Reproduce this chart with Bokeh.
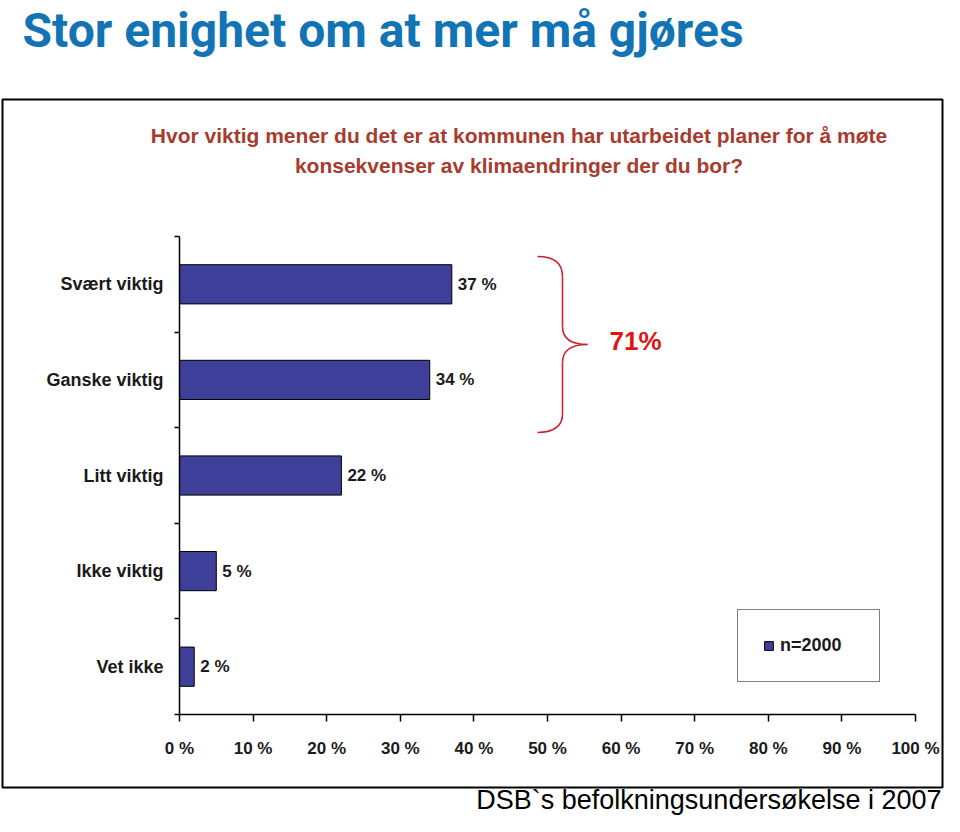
from bokeh.plotting import figure
from bokeh.embed import file_html
from bokeh.resources import INLINE
from bokeh.core.properties import value
from bokeh.models import (Range1d, FixedTicker, Label, BoxAnnotation, Legend,
                          LegendItem, ColumnDataSource, LinearAxis)

# ---------------- data ----------------
categories = ["Svært viktig", "Ganske viktig", "Litt viktig", "Ikke viktig", "Vet ikke"]
shares = [37, 34, 22, 5, 2]
series_name = "n=2000"
x_ticks = [0, 10, 20, 30, 40, 50, 60, 70, 80, 90, 100]
x_tick_labels = ["0 %", "10 %", "20 %", "30 %", "40 %", "50 %", "60 %", "70 %", "80 %", "90 %", "100 %"]
bracket_total = "71%"
main_title = "Stor enighet om at mer må gjøres"
question_lines = ["Hvor viktig mener du det er at kommunen har utarbeidet planer for å møte",
                  "konsekvenser av klimaendringer der du bor?"]
source_note = "DSB`s befolkningsundersøkelse i 2007"

# ---------------- layout helpers (canvas pixels -> data) ----------------
W, H = 944, 816
FL, FT, FR, FB = 179, 236, 915, 714  # plot area edges in canvas pixels
n = len(categories)
ypos = [n - i for i in range(n)]  # top category first


def dx(px):
    return (px - FL) / (FR - FL) * 100


def dy(py):
    return (n + 0.5) - (py - FT) / (FB - FT) * n


FONT = "Liberation Sans"
TXT = "#1a1a1a"
BAR = "#3E3F99"

p = figure(width=W, height=H, title=None,
           x_range=Range1d(dx(0), dx(W)), y_range=Range1d(dy(H), dy(0)),
           output_backend="svg", toolbar_location=None,
           x_axis_type=None, y_axis_type=None, min_border=0)
p.outline_line_color = None
p.background_fill_color = "white"
p.border_fill_color = "white"

src = ColumnDataSource(dict(y=ypos, right=shares, cat=categories,
                            lab=[f"{v} %" for v in shares]))
bars = p.hbar(y="y", right="right", left=0, height=0.41, source=src,
              fill_color=BAR, line_color="black", line_width=1)
p.text(x="right", y="y", text="lab", source=src, x_offset=6,
       text_baseline="middle", text_align="left",
       text_font=value(FONT), text_font_style="bold", text_font_size="17px",
       text_color=TXT)

# x axis
xa = LinearAxis(fixed_location=0.5, bounds=(0, 100))
xa.ticker = FixedTicker(ticks=x_ticks, minor_ticks=[])
xa.major_label_overrides = {t: l for t, l in zip(x_ticks, x_tick_labels)}
xa.major_tick_out = 7
xa.major_tick_in = 0
xa.major_tick_line_width = 1.5
xa.axis_line_width = 1.5
xa.major_label_standoff = 17
xa.major_label_text_font = FONT
xa.major_label_text_font_style = "bold"
xa.major_label_text_font_size = "17px"
xa.major_label_text_color = TXT
p.add_layout(xa, "below")

# y axis: labels at category centres, ticks between categories
ya = LinearAxis(fixed_location=0, bounds=(0.5, n + 0.5))
ya.ticker = FixedTicker(ticks=ypos, minor_ticks=[i + 0.5 for i in range(n + 1)])
ya.major_label_overrides = {y: c for y, c in zip(ypos, categories)}
ya.major_tick_line_color = None
ya.major_tick_out = 0
ya.major_tick_in = 0
ya.minor_tick_out = 5
ya.minor_tick_in = 0
ya.minor_tick_line_color = "black"
ya.minor_tick_line_width = 1.5
ya.axis_line_width = 1.5
ya.major_label_standoff = 11
ya.major_label_text_font = FONT
ya.major_label_text_font_style = "bold"
ya.major_label_text_font_size = "18px"
ya.major_label_text_color = TXT
p.add_layout(ya, "left")

# legend
legend = Legend(items=[LegendItem(label=series_name, renderers=[bars])],
                location=(737, H - 682), margin=0, padding=25,
                glyph_width=11, glyph_height=11, label_standoff=6,
                label_width=74, label_height=14, spacing=0,
                border_line_color="black", border_line_width=1.5,
                background_fill_color="white", background_fill_alpha=1,
                label_text_font=FONT, label_text_font_style="bold",
                label_text_font_size="18px", label_text_color=TXT)
p.add_layout(legend)

# curly bracket spanning the two top categories
RED = "#CC2230"
segs = [
    ((537, 256), (552, 256), (562, 262), (562, 276)),
    ((562, 276), (562, 276), (562, 326), (562, 326)),
    ((562, 326), (562, 338), (571, 344), (587, 344)),
    ((587, 344), (571, 344), (562, 350), (562, 362)),
    ((562, 362), (562, 362), (562, 414), (562, 414)),
    ((562, 414), (562, 426), (552, 432), (537, 432)),
]
p.bezier(x0=[dx(s[0][0]) for s in segs], y0=[dy(s[0][1]) for s in segs],
         cx0=[dx(s[1][0]) for s in segs], cy0=[dy(s[1][1]) for s in segs],
         cx1=[dx(s[2][0]) for s in segs], cy1=[dy(s[2][1]) for s in segs],
         x1=[dx(s[3][0]) for s in segs], y1=[dy(s[3][1]) for s in segs],
         line_color=RED, line_width=1.6)
p.add_layout(Label(x=dx(609), y=dy(340), text=bracket_total, text_align="left",
                   text_baseline="middle", text_font=FONT, text_font_style="bold",
                   text_font_size="26px", text_color="#E01414"))

# outer box
p.add_layout(BoxAnnotation(left=dx(2), right=dx(942), top=dy(99), bottom=dy(787),
                           fill_alpha=0, line_color="black", line_alpha=1,
                           line_width=2, level="overlay"))

# question (chart title)
for i, line in enumerate(question_lines):
    p.add_layout(Label(x=dx(518.5), y=dy(134.5 + 30 * i), text=line,
                       text_align="center", text_baseline="middle",
                       text_font=FONT, text_font_style="bold",
                       text_font_size="21px", text_color="#A83B2E"))

# main slide title
p.add_layout(Label(x=dx(22), y=dy(30), text=main_title, text_align="left",
                   text_baseline="middle", text_font="Roboto",
                   text_font_style="bold", text_font_size="48px",
                   text_color="#1274B4"))

# source note
p.add_layout(Label(x=dx(941), y=dy(799), text=source_note, text_align="right",
                   text_baseline="middle", text_font=FONT,
                   text_font_size="27px", text_color="black"))

open("out.html", "w").write(file_html(p, INLINE))
